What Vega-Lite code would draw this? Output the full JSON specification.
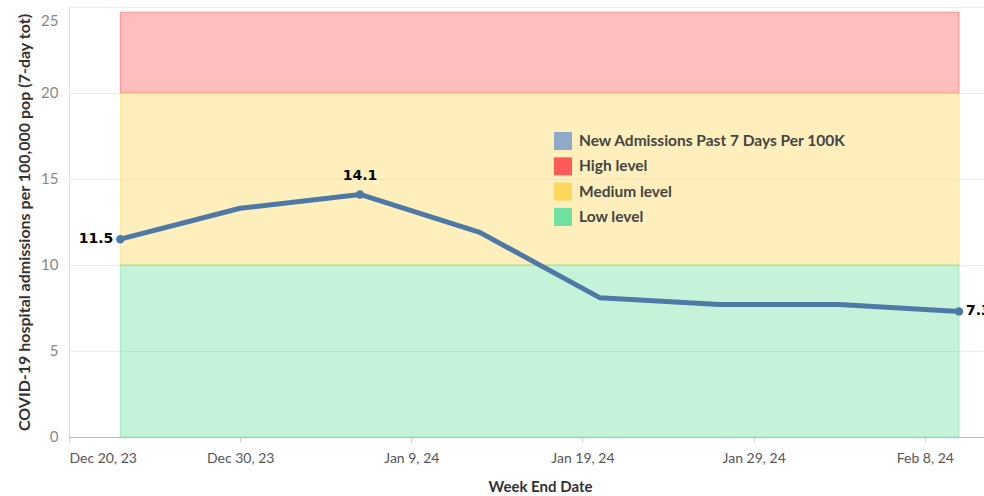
{
  "$schema": "https://vega.github.io/schema/vega-lite/v6.json",
  "width": 915,
  "height": 430,
  "autosize": {"type": "none"},
  "padding": {"left": 69, "top": 7, "right": 0, "bottom": 59},
  "config": {"view": {"stroke": null}, "font": "Lato"},
  "datasets": {
    "bands": [
      {"level": "High level", "start": "2023-12-23", "end": "2024-02-10", "lo": 20, "hi": 24.7},
      {"level": "Medium level", "start": "2023-12-23", "end": "2024-02-10", "lo": 10, "hi": 20},
      {"level": "Low level", "start": "2023-12-23", "end": "2024-02-10", "lo": 0, "hi": 10}
    ],
    "series": [
      {"week": "2023-12-23", "value": 11.5},
      {"week": "2023-12-30", "value": 13.3},
      {"week": "2024-01-06", "value": 14.1},
      {"week": "2024-01-13", "value": 11.9},
      {"week": "2024-01-20", "value": 8.1},
      {"week": "2024-01-27", "value": 7.7},
      {"week": "2024-02-03", "value": 7.7},
      {"week": "2024-02-10", "value": 7.3}
    ]
  },
  "encoding": {
    "x": {
      "field": "week",
      "type": "temporal",
      "scale": {
        "type": "utc",
        "domain": [
          {"year": 2023, "month": 12, "date": 20, "utc": true},
          {"year": 2024, "month": 2, "date": 11, "hours": 11, "utc": true}
        ]
      },
      "axis": {
        "title": "Week End Date",
        "values": [
          {"year": 2023, "month": 12, "date": 20, "utc": true},
          {"year": 2023, "month": 12, "date": 30, "utc": true},
          {"year": 2024, "month": 1, "date": 9, "utc": true},
          {"year": 2024, "month": 1, "date": 19, "utc": true},
          {"year": 2024, "month": 1, "date": 29, "utc": true},
          {"year": 2024, "month": 2, "date": 8, "utc": true}
        ],
        "format": "%b %-d, %y",
        "labelFlush": true,
        "grid": false,
        "domainColor": "#bbbbbb",
        "tickColor": "#d0d0d0",
        "tickSize": 5,
        "labelColor": "#555555",
        "labelFontSize": 14,
        "labelPadding": 9,
        "titleFontSize": 15,
        "titleFontWeight": "bold",
        "titleColor": "#333333",
        "titlePadding": 14,
        "titleX": 471
      }
    },
    "y": {
      "field": "value",
      "type": "quantitative",
      "scale": {"domain": [0, 25], "nice": false},
      "axis": {
        "title": "COVID-19 hospital admissions per 100,000 pop (7-day tot)",
        "values": [0, 5, 10, 15, 20, 25],
        "grid": true,
        "gridColor": "#ebebeb",
        "domainColor": "#dddddd",
        "tickSize": 0,
        "labelFontSize": 15,
        "labelColor": "#888888",
        "labelPadding": 11,
        "labelOffset": {"condition": {"test": "datum.value == 25", "value": 13}, "value": -1},
        "titleFontSize": 16,
        "titleFontWeight": "bold",
        "titleColor": "#333333",
        "titlePadding": 8
      }
    }
  },
  "layer": [
    {
      "data": {"name": "bands"},
      "mark": {"type": "rect", "fillOpacity": 0.4, "strokeOpacity": 0.55, "strokeWidth": 1},
      "encoding": {
        "x": {"field": "start", "type": "temporal"},
        "x2": {"field": "end"},
        "y": {"field": "lo", "type": "quantitative"},
        "y2": {"field": "hi"},
        "color": {
          "field": "level",
          "type": "nominal",
          "scale": {
            "domain": ["New Admissions Past 7 Days Per 100K", "High level", "Medium level", "Low level"],
            "range": ["#8fa9c8", "#ff5a5a", "#ffd75a", "#6ee0a0"]
          },
          "legend": {
            "orient": "none",
            "legendX": 485,
            "legendY": 125,
            "title": null,
            "symbolType": "square",
            "symbolSize": 324,
            "symbolStrokeWidth": 0,
            "symbolOpacity": 1,
            "labelFontSize": 15.5,
            "labelFontWeight": "bold",
            "labelColor": "#444444",
            "rowPadding": 7.3,
            "labelOffset": 7,
            "labelLimit": 400
          }
        },
        "stroke": {
          "field": "level",
          "type": "nominal",
          "scale": {
            "domain": ["New Admissions Past 7 Days Per 100K", "High level", "Medium level", "Low level"],
            "range": ["#8fa9c8", "#ff5a5a", "#ffd75a", "#6ee0a0"]
          },
          "legend": null
        }
      }
    },
    {
      "data": {"name": "series"},
      "mark": {"type": "line", "color": "#4e79a7", "strokeWidth": 5, "strokeCap": "round", "strokeJoin": "round"}
    },
    {
      "data": {"name": "series"},
      "transform": [{"filter": "datum.value == 11.5 || datum.value == 14.1 || datum.value == 7.3"}],
      "mark": {"type": "point", "filled": true, "color": "#4e79a7", "opacity": 1, "size": 70}
    },
    {
      "data": {"name": "series"},
      "transform": [{"filter": "datum.value == 11.5"}],
      "mark": {"type": "text", "align": "right", "baseline": "middle", "dx": -7, "font": "DejaVu Sans", "fontWeight": "bold", "fontSize": 14, "color": "#000000"},
      "encoding": {"text": {"field": "value", "type": "quantitative", "format": ".1f"}}
    },
    {
      "data": {"name": "series"},
      "transform": [{"filter": "datum.value == 14.1"}],
      "mark": {"type": "text", "align": "center", "baseline": "middle", "dy": -18, "font": "DejaVu Sans", "fontWeight": "bold", "fontSize": 14, "color": "#000000"},
      "encoding": {"text": {"field": "value", "type": "quantitative", "format": ".1f"}}
    },
    {
      "data": {"name": "series"},
      "transform": [{"filter": "datum.value == 7.3"}],
      "mark": {"type": "text", "align": "left", "baseline": "middle", "dx": 7, "font": "DejaVu Sans", "fontWeight": "bold", "fontSize": 14, "color": "#000000"},
      "encoding": {"text": {"field": "value", "type": "quantitative", "format": ".1f"}}
    }
  ]
}
